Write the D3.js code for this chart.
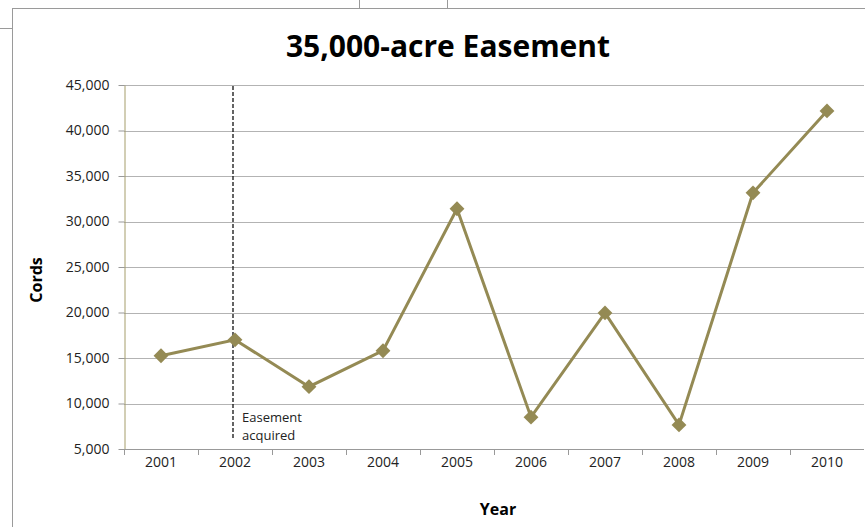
<!DOCTYPE html>
<meta charset="utf-8">
<html>
<head>
<script src="https://d3js.org/d3.v7.min.js"></script>
<style>
  body { margin: 0; background: #fff; }
  text { font-family: "Open Sans", sans-serif; }
</style>
</head>
<body>
<div id="my_dataviz"></div>
<script>

// data
var years = ["2001", "2002", "2003", "2004", "2005", "2006", "2007", "2008", "2009", "2010"];
var cords = [15250, 17000, 11850, 15800, 31400, 8500, 19950, 7650, 33150, 42150];
var yTicks = [5000, 10000, 15000, 20000, 25000, 30000, 35000, 40000, 45000];
var easementYear = "2002";

var W = 865, H = 527;
var margin = {top: 85, right: 1, bottom: 78, left: 124},
    width = W - margin.left - margin.right,
    height = H - margin.top - margin.bottom;

var root = d3.select("#my_dataviz")
  .append("svg")
    .attr("width", W)
    .attr("height", H);

// frame lines of the worksheet / chart box
var frame = "#9a9a9a";
root.append("line").attr("x1", 12.5).attr("x2", 12.5).attr("y1", 8).attr("y2", H).attr("stroke", frame);
root.append("line").attr("x1", 12.5).attr("x2", W).attr("y1", 8.5).attr("y2", 8.5).attr("stroke", frame);
root.append("line").attr("x1", 0).attr("x2", 12.5).attr("y1", 28.5).attr("y2", 28.5).attr("stroke", frame);
root.append("line").attr("x1", 359.5).attr("x2", 359.5).attr("y1", 0).attr("y2", 8).attr("stroke", frame);
root.append("line").attr("x1", 447.5).attr("x2", 447.5).attr("y1", 0).attr("y2", 8).attr("stroke", frame);

// title
root.append("text")
  .attr("x", 448).attr("y", 57)
  .attr("text-anchor", "middle")
  .style("font-size", "30px")
  .style("font-weight", "bold")
  .text("35,000-acre Easement");

var svg = root.append("g")
  .attr("transform", "translate(" + margin.left + "," + margin.top + ")");

var x = d3.scaleBand()
  .domain(years)
  .range([0, 740]);

var y = d3.scaleLinear()
  .domain([5000, 45000])
  .range([height, 0]);

// gridlines
svg.append("g")
  .selectAll("line")
  .data(yTicks)
  .enter()
  .append("line")
    .attr("x1", 0)
    .attr("x2", width)
    .attr("y1", function(d) { return Math.round(y(d)) + 0.5; })
    .attr("y2", function(d) { return Math.round(y(d)) + 0.5; })
    .attr("stroke", "#b3b3b3");

// Y axis
var yAxis = svg.append("g")
  .attr("transform", "translate(0.5,0)")
  .call(d3.axisLeft(y).tickValues(yTicks).tickSize(6).tickSizeOuter(0).tickFormat(d3.format(",")));
yAxis.select(".domain").attr("stroke", "#a59d6a");
yAxis.selectAll(".tick line").attr("stroke", "#999");
yAxis.selectAll(".tick text").attr("x", -15).style("font-size", "14px").attr("fill", "#222");

// X axis
var xAxis = svg.append("g")
  .attr("transform", "translate(0," + (Math.round(height) + 0.5) + ")")
  .call(d3.axisBottom(x).tickSize(0).tickPadding(8));
xAxis.select(".domain").attr("stroke", "#999").attr("d", "M0,0H" + width);
xAxis.selectAll(".tick text").style("font-size", "14px").attr("fill", "#222");
svg.append("g")
  .selectAll("line")
  .data(years)
  .enter()
  .append("line")
    .attr("x1", function(d) { return Math.round(x(d)) + 0.5; })
    .attr("x2", function(d) { return Math.round(x(d)) + 0.5; })
    .attr("y1", height)
    .attr("y2", height + 6)
    .attr("stroke", "#999");

// axis titles
root.append("text")
  .attr("transform", "translate(42,280) rotate(-90)")
  .attr("text-anchor", "middle")
  .style("font-size", "16px")
  .style("font-weight", "bold")
  .text("Cords");

root.append("text")
  .attr("x", 498).attr("y", 515)
  .attr("text-anchor", "middle")
  .style("font-size", "16px")
  .style("font-weight", "bold")
  .text("Year");

// easement marker
var ex = x(easementYear) + x.bandwidth() / 2 - 2;
svg.append("line")
  .attr("x1", ex).attr("x2", ex)
  .attr("y1", 1).attr("y2", height - 9)
  .attr("stroke", "#111")
  .attr("stroke-width", 1.3)
  .attr("stroke-dasharray", "4,2");
svg.append("text")
  .attr("x", ex + 9).attr("y", height - 27)
  .style("font-size", "13px")
  .attr("fill", "#222")
  .text("Easement");
svg.append("text")
  .attr("x", ex + 9).attr("y", height - 9)
  .style("font-size", "13px")
  .attr("fill", "#222")
  .text("acquired");

// series
var pts = years.map(function(d, i) { return {year: d, value: cords[i]}; });
var color = "#948a54";

svg.append("path")
  .datum(pts)
  .attr("fill", "none")
  .attr("stroke", color)
  .attr("stroke-width", 3)
  .attr("d", d3.line()
    .x(function(d) { return x(d.year) + x.bandwidth() / 2; })
    .y(function(d) { return y(d.value); }));

svg.selectAll(".marker")
  .data(pts)
  .enter()
  .append("path")
    .attr("class", "marker")
    .attr("fill", color)
    .attr("transform", function(d) { return "translate(" + (x(d.year) + x.bandwidth() / 2) + "," + y(d.value) + ") rotate(45)"; })
    .attr("d", d3.symbol().type(d3.symbolSquare).size(110));

</script>
</body>
</html>
